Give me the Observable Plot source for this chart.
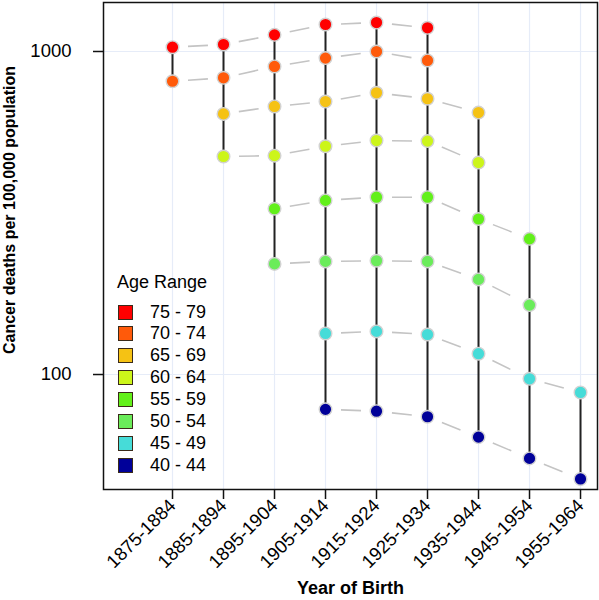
<!DOCTYPE html>
<html>
<head>
<meta charset="utf-8">
<script src="https://cdn.jsdelivr.net/npm/d3@7"></script>
<script src="https://cdn.jsdelivr.net/npm/@observablehq/plot@0.6"></script>
<style>
  body { margin: 0; background: #fff; font-family: "Liberation Sans", Arial, sans-serif; }
  #wrap { position: relative; width: 599px; height: 600px; }
  #legend { position: absolute; left: 0; top: 0; font-family: "Liberation Sans", Arial, sans-serif; color: #000; }
  .lg-title { position: absolute; left: 117px; top: 272px; font-size: 18px; white-space: nowrap; }
  .lg-row { position: absolute; left: 118px; height: 22px; display: flex; align-items: center; white-space: nowrap; font-size: 18px; }
  .lg-sw { width: 13px; height: 13px; border: 1px solid #3a2a1a; box-sizing: content-box; margin-right: 17px; }
</style>
</head>
<body>
<div id="wrap"></div>
<script>
const cohorts = ["1875-1884", "1885-1894", "1895-1904", "1905-1914", "1915-1924", "1925-1934", "1935-1944", "1945-1954", "1955-1964"];
const ageGroups = ["75 - 79", "70 - 74", "65 - 69", "60 - 64", "55 - 59", "50 - 54", "45 - 49", "40 - 44"];
const ageColors = ["#ff0000", "#ff5a0a", "#f5c214", "#ccf51a", "#62f01a", "#6aec5a", "#46dcd8", "#000099"];

// deaths per 100,000 by age group across birth cohorts (null = not observed)
const age7579 = [1031, 1051, 1126, 1212, 1229, 1184, null, null, null];
const age7074 = [809, 829, 899, 954, 1000, 938, null, null, null];
const age6569 = [null, 641, 676, 700, 745, 714, 647, null, null];
const age6064 = [null, 473, 476, 509, 530, 528, 453, null, null];
const age5559 = [null, null, 326, 346, 354, 354, 303, 263, null];
const age5054 = [null, null, 220, 224, 225, 224, 197, 164, null];
const age4549 = [null, null, null, 134, 136, 133, 116, 97, 88];
const age4044 = [null, null, null, 78, 77, 74, 64, 55, 47.5];

const yTicks = [100, 1000];

const series = [age7579, age7074, age6569, age6064, age5559, age5054, age4549, age4044];

const points = [];
const segments = [];
series.forEach((vals, g) => {
  vals.forEach((v, i) => {
    if (v != null) points.push({i, value: v, age: ageGroups[g]});
    if (i < vals.length - 1 && v != null && vals[i + 1] != null) {
      segments.push({x1: i, x2: i + 1, y1: v, y2: vals[i + 1]});
    }
  });
});

const font = "Liberation Sans, Arial, sans-serif";

const chart = Plot.plot({
  width: 599,
  height: 600,
  marginLeft: 103,
  marginRight: 2,
  marginTop: 2,
  marginBottom: 111,
  style: {fontFamily: font, fontSize: "18px", color: "#000", background: "#fff"},
  x: {type: "linear", domain: [-1.353, 8.333]},
  y: {type: "log", domain: [44.06, 1418]},
  color: {domain: ageGroups, range: ageColors},
  marks: [
    Plot.gridX(d3.range(cohorts.length), {stroke: "#e6ecf8", strokeOpacity: 1, strokeWidth: 1.2}),
    Plot.gridY(yTicks, {stroke: "#e6ecf8", strokeOpacity: 1, strokeWidth: 1.2}),
    Plot.link(segments, {x1: "x1", x2: "x2", y1: "y1", y2: "y2", stroke: "#c4c4c4", strokeWidth: 1.6, strokeDasharray: "0 15.5 20 400"}),
    Plot.ruleX(points, Plot.groupX({y1: "min", y2: "max"}, {x: "i", y: "value", stroke: "#222", strokeWidth: 2})),
    Plot.dot(points, {x: "i", y: "value", fill: "age", r: 6.3, stroke: "#d2d2d2", strokeWidth: 1.4}),
    Plot.frame({stroke: "#111", strokeWidth: 1.5}),
    Plot.axisY({ticks: yTicks, tickFormat: d => String(d), tickSize: 10, tickPadding: 22, fontSize: 18.5, label: null, stroke: "#111", strokeWidth: 1.5}),
    Plot.axisX({ticks: d3.range(cohorts.length), tickFormat: i => cohorts[i], tickSize: 10, tickPadding: 3, tickRotate: -45, fontSize: 18.5, label: null, stroke: "#111", strokeWidth: 1.5}),
    Plot.text(["Cancer deaths per 100,000 population"], {frameAnchor: "left", textAnchor: "middle", dx: -94, dy: -36, rotate: -90, fontWeight: "bold", fontSize: 16, fill: "#000"}),
    Plot.text(["Year of Birth"], {frameAnchor: "bottom", dy: 104, fontWeight: "bold", fontSize: 18, fill: "#000"})
  ]
});

const wrap = document.getElementById("wrap");
wrap.appendChild(chart);

const legend = document.createElement("div");
legend.id = "legend";
const title = document.createElement("div");
title.className = "lg-title";
title.textContent = "Age Range";
legend.appendChild(title);
ageGroups.forEach((a, k) => {
  const row = document.createElement("div");
  row.className = "lg-row";
  row.style.top = (301 + 21.9 * k) + "px";
  const sw = document.createElement("div");
  sw.className = "lg-sw";
  sw.style.background = ageColors[k];
  const lab = document.createElement("span");
  lab.textContent = a;
  row.appendChild(sw);
  row.appendChild(lab);
  legend.appendChild(row);
});
wrap.appendChild(legend);
</script>
</body>
</html>
